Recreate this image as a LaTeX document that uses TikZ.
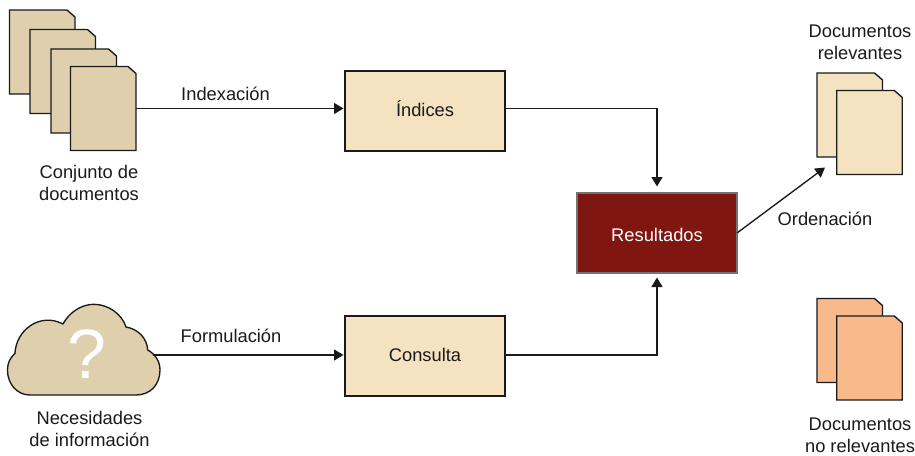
\documentclass[tikz,border=0pt]{standalone}
\usepackage{fontspec}
\setmainfont{Liberation Sans}
\usetikzlibrary{arrows.meta}
\definecolor{tan}{HTML}{DFCFAD}
\definecolor{cream}{HTML}{F5E2C0}
\definecolor{peach}{HTML}{F8B98B}
\definecolor{wine}{HTML}{7F1710}
\definecolor{ink}{HTML}{1A1A1A}
\tikzset{
  x=1pt,y=-1pt,
  outline/.style={draw=ink,line width=1.35pt,line join=miter},
  procbox/.style={outline,fill=cream,minimum width=160pt,minimum height=80pt,inner sep=0pt,text=ink,font=\fontsize{18.3}{20}\selectfont},
  resbox/.style={draw=black!55,line width=1.35pt,fill=wine,minimum width=160pt,minimum height=80pt,inner sep=0pt,text=white,font=\fontsize{18.3}{20}\selectfont},
  lbl/.style={text=ink,font=\fontsize{18.3}{22}\selectfont,align=center,inner sep=0pt},
  link/.style={draw=ink,line width=1.35pt},
  tip/.style={-{Triangle[length=9.5pt,width=11pt]}},
  anchorbox/.style={minimum width=65.5pt,minimum height=84pt,inner sep=0pt,anchor=north west},
}
% \docsheet{name}{left}{top}{colour}
\newcommand{\docsheet}[4]{%
  \path[outline,fill=#4] (#2,#3) -- ++(57.5,0) -- ++(8,7) -- ++(0,77) -- ++(-65.5,0) -- cycle;
  \node[anchorbox] (#1) at (#2,#3) {};
}
\begin{document}
\begin{tikzpicture}
\useasboundingbox (0,0) rectangle (915,455);
% document stack
\docsheet{da}{9.5}{10}{tan}
\docsheet{db}{30}{29.5}{tan}
\docsheet{dc}{51}{49}{tan}
\docsheet{dd}{70.5}{66.5}{tan}
% cloud
\coordinate (cloudedge) at (153,355);
\path[outline,fill=tan,line join=round]
  (15,353.3) .. controls (16,330) and (40,312) .. (63,324)
  .. controls (72,308) and (86,304.3) .. (94,304.3)
  .. controls (108,304.3) and (122,314) .. (126,327)
  .. controls (138,329) and (147,338) .. (147.7,350)
  .. controls (155,354) and (160,361) .. (160,370)
  .. controls (160,385) and (150,395) .. (136,395)
  -- (30,395)
  .. controls (17,395) and (7.5,384) .. (7.5,370)
  .. controls (7.5,363) and (10,358) .. (15,353.3) -- cycle;
\node[inner sep=0pt,text=white,font=\fontsize{70}{70}\selectfont] (q) at (86.5,354) {?};
% process boxes
\node[procbox] (ind) at (425,111) {\raisebox{-5pt}[0pt][0pt]{Índices}};
\node[procbox] (con) at (425,356) {\raisebox{1.5pt}{Consulta}};
\node[resbox] (res) at (657,233) {\raisebox{-8pt}[0pt][0pt]{Resultados}};
% result documents
\docsheet{ra}{817}{73}{cream}
\docsheet{rb}{836.8}{90.5}{cream}
\docsheet{na}{817}{298.5}{peach}
\docsheet{nb}{836.8}{316}{peach}
% connectors
\coordinate (indin) at (343.5,108.5);
\coordinate (conin) at (343.5,355);
\coordinate (restop) at (657,186.5);
\coordinate (resbot) at (657,277.5);
\coordinate (resout) at (737,233);
\coordinate (ordend) at (825,167.5);
\draw[link,tip] (dd.east |- indin) -- (indin);
\draw[link,tip] (cloudedge) -- (conin);
\draw[link,tip] (con.east |- conin) -- (resbot |- conin) -- (resbot);
\draw[link,tip] (ind.east |- indin) -- (restop |- indin) -- (restop);
\draw[link,tip] (resout) -- (ordend);
% labels
\node[lbl] (t1) at (225.5,94) {Indexación};
\node[lbl] (t2) at (231,336) {Formulación};
\node[lbl] (t3) at (825,218.5) {Ordenación};
\node[lbl] (t4) at (89,182.5) {Conjunto de\\documentos};
\node[lbl] (t5) at (89.5,429) {Necesidades\\de información};
\node[lbl] (t6) at (860,42.3) {Documentos\\relevantes};
\node[lbl] (t7) at (860,435) {Documentos\\no relevantes};
\end{tikzpicture}
\end{document}
